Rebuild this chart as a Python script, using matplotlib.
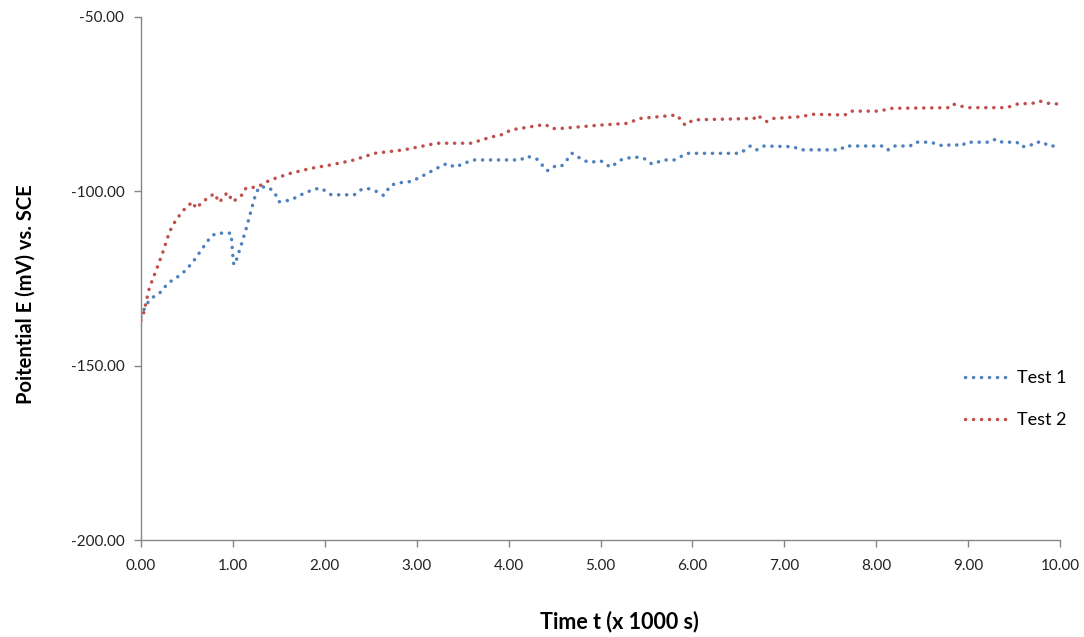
import matplotlib
matplotlib.use("Agg")
import matplotlib.pyplot as plt

# Time in thousands of seconds, potential in mV vs SCE
t1 = [0.00, 0.02, 0.09, 0.14, 0.22, 0.29, 0.40, 0.49, 0.58, 0.67, 0.76, 0.82, 0.98, 1.00, 1.01,
      1.04, 1.09, 1.14, 1.18, 1.22, 1.25, 1.29, 1.38, 1.45, 1.50, 1.63, 1.74, 1.88, 1.96, 2.07,
      2.32, 2.39, 2.46, 2.57, 2.64, 2.72, 2.83, 2.93, 3.01, 3.12, 3.24, 3.33, 3.42, 3.51, 3.62,
      4.13, 4.20, 4.31, 4.42, 4.49, 4.57, 4.62, 4.69, 4.82, 4.89, 5.00, 5.11, 5.22, 5.36, 5.47,
      5.56, 5.69, 5.80, 5.87, 5.94, 6.52, 6.63, 6.70, 6.78, 7.10, 7.17, 7.61, 7.66, 8.08, 8.13,
      8.19, 8.37, 8.42, 8.59, 8.73, 8.84, 8.93, 8.98, 9.24, 9.30, 9.37, 9.53, 9.58, 9.67, 9.73,
      9.82, 9.87, 10.00]
e1 = [-136.0, -134.5, -131.2, -130.2, -128.8, -126.4, -124.5, -122.6, -119.7, -116.3, -113.0, -112.0, -112.0, -118.7, -121.1,
      -119.5, -115.4, -111.1, -107.3, -103.4, -100.6, -98.7, -98.8, -100.1, -103.0, -102.5, -101.0, -99.4, -99.1, -101.0,
      -101.0, -99.6, -99.1, -100.1, -101.2, -98.2, -97.5, -97.2, -96.3, -94.8, -93.1, -92.0, -93.1, -92.0, -91.0,
      -91.0, -89.9, -90.8, -94.1, -92.9, -92.9, -91.5, -89.1, -91.2, -91.7, -91.2, -93.1, -91.0, -90.1, -90.5,
      -92.2, -91.0, -91.0, -90.1, -89.1, -89.1, -87.0, -88.1, -87.0, -87.2, -88.1, -88.1, -87.0, -87.0, -88.1,
      -87.0, -87.0, -85.9, -85.9, -87.0, -86.5, -87.0, -85.9, -85.9, -85.0, -85.9, -85.9, -87.2, -87.0, -85.9,
      -85.9, -87.0, -87.0]

t2 = [0.00, 0.02, 0.09, 0.18, 0.24, 0.31, 0.38, 0.47, 0.56, 0.60, 0.67, 0.80, 0.85, 0.94, 1.00,
      1.12, 1.14, 1.27, 1.41, 1.63, 1.85, 2.07, 2.32, 2.54, 2.86, 3.22, 3.59, 3.80, 3.95, 4.02,
      4.40, 4.47, 4.55, 5.00, 5.29, 5.36, 5.43, 5.83, 5.92, 6.01, 6.67, 6.70, 6.81, 6.88, 7.17,
      7.32, 7.66, 7.72, 8.04, 8.15, 8.80, 8.84, 8.99, 9.42, 9.53, 9.71, 9.78, 9.85, 10.00]
e2 = [-137.0, -135.9, -127.8, -121.6, -117.3, -111.6, -108.2, -105.2, -103.0, -104.9, -103.0, -100.6, -103.2, -100.3, -103.0,
      -100.6, -99.1, -98.7, -96.7, -94.8, -93.4, -92.4, -91.0, -89.1, -88.1, -86.2, -86.2, -84.5, -83.6, -82.4,
      -80.8, -82.0, -82.0, -81.0, -80.5, -79.8, -79.1, -78.1, -81.0, -79.5, -79.1, -78.1, -80.0, -79.1, -78.6,
      -77.9, -78.1, -77.0, -77.0, -76.2, -76.0, -75.0, -76.0, -76.0, -75.0, -74.7, -74.1, -74.7, -75.0]

series_labels = ["Test 1", "Test 2"]
colors = ["#4F81BD", "#C0504D"]
xticks = [0, 1, 2, 3, 4, 5, 6, 7, 8, 9, 10]
yticks = [-200, -150, -100, -50]

font = ["Lato", "DejaVu Sans"]
plt.rcParams['font.family'] = font

fig = plt.figure(figsize=(10.84, 6.37), dpi=100)
ax = fig.add_axes([141/1084, 1 - 540/637, 919/1084, 523/637])

for t, e, lab, c in [(t1, e1, series_labels[0], colors[0]), (t2, e2, series_labels[1], colors[1])]:
    ln, = ax.plot(t, e, color=c, lw=2.5, label=lab, dash_capstyle='round', solid_joinstyle='round')
    ln.set_dashes((0.05, 2.25))

ax.set_xlim(0, 10)
ax.set_ylim(-200, -50)
ax.set_xticks(xticks)
ax.set_xticklabels([f"{v:.2f}" for v in xticks])
ax.set_yticks(yticks)
ax.set_yticklabels([f"{v:.2f}" for v in yticks])

for s in ["top", "right"]:
    ax.spines[s].set_visible(False)
for s in ["left", "bottom"]:
    ax.spines[s].set_color("#868686")
    ax.spines[s].set_linewidth(1.0)
ax.tick_params(axis='both', direction='out', length=5, width=1, color="#868686",
               labelsize=11, labelcolor="#222222")
ax.tick_params(axis='x', pad=9)
ax.tick_params(axis='y', pad=7)

fig.text(619/1084, 1 - 622/637, "Time t (x 1000 s)", ha='center', va='center',
         fontsize=15.5, fontweight='bold')
fig.text(26/1084, 1 - 294/637, "Poitential E (mV) vs. SCE", ha='center', va='center',
         rotation=90, fontsize=14.5, fontweight='bold')

leg = ax.legend(loc='center left', bbox_to_anchor=(949/1084, 1 - 399/637),
                bbox_transform=fig.transFigure, frameon=False, fontsize=13,
                handlelength=2.44, handletextpad=0.45, labelspacing=1.45)

fig.savefig("out.png", dpi=100)
